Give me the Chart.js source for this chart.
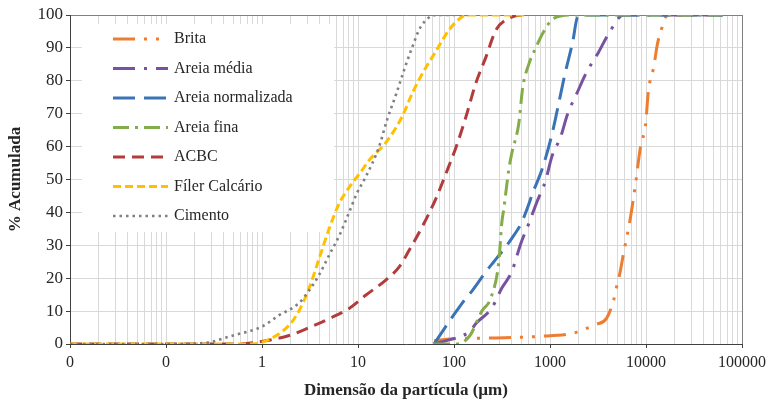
<!DOCTYPE html>
<html>
<head>
<meta charset="utf-8">
<script src="https://cdn.jsdelivr.net/npm/chart.js@4.4.1/dist/chart.umd.min.js"></script>
<style>
  html, body { margin: 0; padding: 0; background: #fff; }
  canvas { display: block; }
</style>
</head>
<body>
<canvas id="granChart" width="772" height="402"></canvas>
<script>
// Particle size (µm) and cumulative % per material
const britaSize = [62, 115, 250, 440, 760, 1760, 2240, 2990, 3880, 4590, 4930, 5300, 5830, 6900, 7790, 8770, 9880, 10600, 12000, 13200, 14200, 16000, 17500, 63000];
const britaPct  = [1, 1.7, 1.8, 2, 2.3, 3.3, 4.4, 5.9, 7.8, 13.2, 17.3, 21, 27.5, 38.6, 48.8, 60, 66.5, 77, 84, 91.4, 94.8, 99.4, 100, 100];

const mediaSize = [62, 115, 146, 169, 248, 315, 400, 496, 601, 727, 902, 1042, 1292, 1528, 1892, 2405, 3206, 4170, 5834, 63000];
const mediaPct  = [0, 2.3, 3.8, 6.2, 11, 17, 22, 30.5, 36.6, 43, 49.8, 56.8, 63, 70, 76, 82.6, 88.7, 94.8, 100, 100];

const normSize = [62, 82, 95, 132, 153, 220, 260, 355, 420, 508, 559, 677, 820, 1042, 1203, 1422, 1722, 1941, 2400, 63000];
const normPct  = [0, 5.3, 8, 13.8, 16, 22.4, 25, 30, 33, 37, 40, 46.7, 52.8, 63.4, 71.7, 81.7, 91.8, 99.4, 100, 100];

const finaSize = [62, 105, 146, 195, 242, 293, 315, 330, 372, 400, 473, 520, 601, 710, 861, 1094, 1763, 63000];
const finaPct  = [0, 0, 2.5, 10, 14, 25, 37, 41, 53, 58, 67, 78, 85, 90, 95, 99, 100, 100];

const acbcSize = [0.01, 0.55, 1, 1.92, 3.1, 5, 8.08, 12, 19.6, 27, 34, 46.4, 64.8, 82.4, 105, 133, 169, 215, 273, 372, 533, 560];
const acbcPct  = [0, 0, 0.8, 2.6, 5, 7.7, 10.8, 14.8, 19.5, 23.5, 28.4, 35.5, 44.2, 51.8, 59.8, 69, 79.3, 87.2, 95.4, 99, 100, 100];

const filerSize = [0.01, 0.8, 1, 1.9, 2.44, 3.1, 3.94, 5, 6.36, 8.08, 11, 13, 19.6, 28.7, 36.5, 46.4, 64.8, 88.5, 121, 143, 560];
const filerPct  = [0, 0, 0.5, 5.6, 10.2, 17, 26, 35, 42.7, 47.6, 52.8, 55.8, 61.3, 69, 76, 82, 89, 95.4, 99.4, 100, 100];

const cimentoSize = [0.01, 0.1, 0.25, 0.5, 1, 1.5, 2.4, 3.1, 3.9, 5, 6.4, 8, 9.8, 12, 16.6, 20, 25, 30, 36.5, 45, 65, 150];
const cimentoPct  = [0, 0, 0.3, 2.6, 5.3, 8.7, 12.3, 16.3, 20.8, 27, 33, 39.7, 46, 50.7, 60, 68, 76, 83, 90, 96.4, 100, 100];

const seriesNames = ['Brita', 'Areia média', 'Areia normalizada', 'Areia fina', 'ACBC', 'Fíler Calcário', 'Cimento'];

// Axis ticks
const decades = [0.01, 0.1, 1, 10, 100, 1000, 10000, 100000];
const xTickLabels = ['0', '0', '1', '10', '100', '1000', '10000', '100000'];
const yTicks = [0, 10, 20, 30, 40, 50, 60, 70, 80, 90, 100];

function toPoints(sizes, pcts) {
    return sizes.map((s, i) => ({ x: s, y: pcts[i] }));
}

// every 1..9 × 10^n between the decades, for the minor grid
function logGridValues() {
    const vals = [];
    for (let d = 0; d < decades.length - 1; d++) {
        for (let m = 1; m < 10; m++) vals.push(+(decades[d] * m).toPrecision(6));
    }
    vals.push(decades[decades.length - 1]);
    return vals;
}

function isDecade(v) {
    const l = Math.log10(v);
    return Math.abs(l - Math.round(l)) < 1e-9;
}

const styles = [
    { color: '#ED7D31', dash: [22, 9, 3, 9, 3, 9] },
    { color: '#7652A0', dash: [22, 9, 3, 9] },
    { color: '#3A74B6', dash: [22, 9] },
    { color: '#84AC48', dash: [16, 6, 3, 6] },
    { color: '#B23C3C', dash: [12, 7] },
    { color: '#FFC000', dash: [8, 4] },
    { color: '#808080', dash: [2.5, 4] }
];

const sizes = [britaSize, mediaSize, normSize, finaSize, acbcSize, filerSize, cimentoSize];
const pcts = [britaPct, mediaPct, normPct, finaPct, acbcPct, filerPct, cimentoPct];

const datasets = seriesNames.map((name, i) => ({
    label: name,
    data: toPoints(sizes[i], pcts[i]),
    borderColor: styles[i].color,
    backgroundColor: styles[i].color,
    borderDash: styles[i].dash,
    borderWidth: i === 6 ? 2.6 : 3,
    pointRadius: 0,
    fill: false,
    cubicInterpolationMode: 'monotone',
    order: seriesNames.length - i
}));

// Legend drawn inside the plot, on a white box, like the original
const insideLegend = {
    id: 'insideLegend',
    beforeDatasetsDraw(chart) {
        const ctx = chart.ctx;
        const area = chart.chartArea;
        ctx.save();
        ctx.fillStyle = '#ffffff';
        ctx.fillRect(area.left + 12, area.top + 9, 252, 208);
        chart.data.datasets.forEach((ds, i) => {
            const y = area.top + 24 + i * 29.5;
            ctx.strokeStyle = ds.borderColor;
            ctx.lineWidth = ds.borderWidth;
            ctx.setLineDash(ds.borderDash);
            ctx.beginPath();
            ctx.moveTo(area.left + 43, y);
            ctx.lineTo(area.left + 98, y);
            ctx.stroke();
            ctx.setLineDash([]);
            ctx.fillStyle = '#262626';
            ctx.font = '16px "Liberation Serif"';
            ctx.textBaseline = 'middle';
            ctx.textAlign = 'left';
            ctx.fillText(ds.label, area.left + 104, y);
        });
        ctx.restore();
    }
};

const ctx = document.getElementById('granChart').getContext('2d');
new Chart(ctx, {
    type: 'line',
    data: { datasets: datasets },
    plugins: [insideLegend],
    options: {
        responsive: false,
        animation: false,
        devicePixelRatio: 1,
        layout: { padding: { top: 15, right: 30, left: 0, bottom: 0 } },
        plugins: {
            legend: { display: false },
            tooltip: { enabled: false }
        },
        scales: {
            x: {
                type: 'logarithmic',
                min: decades[0],
                max: decades[decades.length - 1],
                afterBuildTicks: function(scale) {
                    scale.ticks = logGridValues().map(v => ({ value: v, major: isDecade(v) }));
                },
                afterFit: function(scale) {
                    scale.height = 58;
                },
                ticks: {
                    autoSkip: false,
                    maxRotation: 0,
                    padding: 5,
                    color: '#262626',
                    font: { family: 'Liberation Serif', size: 16 },
                    callback: function(value) {
                        if (!isDecade(value)) return '';
                        return xTickLabels[Math.round(Math.log10(value)) + 2];
                    }
                },
                grid: {
                    color: function(c) {
                        return c.tick && c.tick.value === 100000 ? '#7f7f7f' : '#d9d9d9';
                    },
                    tickColor: function(c) {
                        return c.tick && isDecade(c.tick.value) ? '#404040' : 'rgba(0,0,0,0)';
                    },
                    tickLength: 4,
                    lineWidth: 1
                },
                border: { color: '#404040', width: 1 },
                title: {
                    display: true,
                    text: 'Dimensão da partícula (µm)',
                    color: '#262626',
                    font: { family: 'Liberation Serif', size: 17, weight: 'bold' },
                    padding: { top: 0, bottom: 1 }
                }
            },
            y: {
                min: yTicks[0],
                max: yTicks[yTicks.length - 1],
                afterFit: function(scale) {
                    scale.width = 70;
                },
                ticks: {
                    stepSize: 10,
                    padding: 3,
                    color: '#262626',
                    font: { family: 'Liberation Serif', size: 17 }
                },
                grid: {
                    color: function(c) {
                        return c.tick && c.tick.value === 100 ? '#7f7f7f' : '#d9d9d9';
                    },
                    tickColor: '#404040',
                    tickLength: 4,
                    lineWidth: 1
                },
                border: { color: '#404040', width: 1 },
                title: {
                    display: true,
                    text: '% Acumulada',
                    color: '#262626',
                    font: { family: 'Liberation Serif', size: 17, weight: 'bold' },
                    padding: { top: 5, bottom: 0 }
                }
            }
        }
    }
});
</script>
</body>
</html>
